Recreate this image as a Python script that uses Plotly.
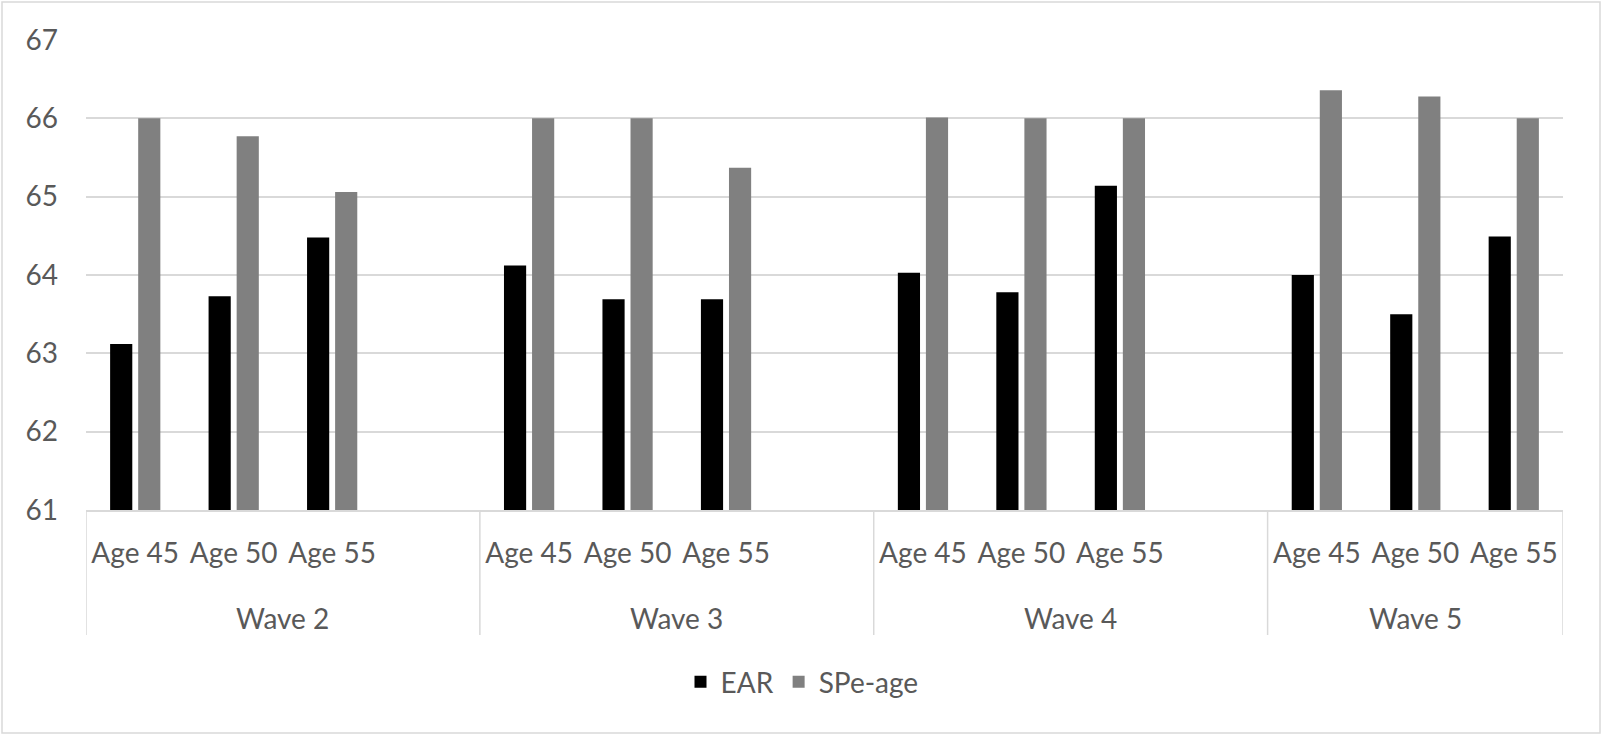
import plotly.graph_objects as go

waves = ["Wave 2", "Wave 3", "Wave 4", "Wave 5"]
ages = ["Age 45", "Age 50", "Age 55"]

ear = {
    "Wave 2": [63.12, 63.73, 64.48],
    "Wave 3": [64.12, 63.69, 63.69],
    "Wave 4": [64.03, 63.78, 65.14],
    "Wave 5": [64.00, 63.50, 64.49],
}
spe_age = {
    "Wave 2": [66.00, 65.77, 65.06],
    "Wave 3": [66.00, 66.00, 65.37],
    "Wave 4": [66.01, 66.00, 66.00],
    "Wave 5": [66.36, 66.28, 66.00],
}

# Category slots: each wave has its three ages; waves 2-4 are followed by an empty slot
xpos, xlab, ear_y, spe_y = [], [], [], []
groups = []  # (wave, first slot, last slot)
k = 0
for i, w in enumerate(waves):
    start = k
    for j, a in enumerate(ages):
        xpos.append(k)
        xlab.append(a)
        ear_y.append(ear[w][j])
        spe_y.append(spe_age[w][j])
        k += 1
    if i < len(waves) - 1:
        k += 1  # empty slot
    groups.append((w, start, k - 1))
n_slots = k

FONT = "Lato"
TXT = "#595959"
GRID = "#D9D9D9"
FS = 28

fig = go.Figure()
fig.add_trace(go.Bar(x=xpos, y=ear_y, name="EAR",
                     marker=dict(color="#000000", line=dict(width=0))))
fig.add_trace(go.Bar(x=xpos, y=spe_y, name="SPe-age",
                     marker=dict(color="#808080", line=dict(width=0))))

W, H = 1603, 735
L, R, T, B = 86, 40, 40, 225
pw, ph = W - L - R, H - T - B

def py(px):  # pixel row -> paper y
    return (H - B - px) / ph

fig.update_layout(
    width=W, height=H,
    margin=dict(l=L, r=R, t=T, b=B, autoexpand=False),
    paper_bgcolor="white", plot_bgcolor="white",
    barmode="group", bargap=0.43, bargroupgap=0.21,
    font=dict(family=FONT, size=FS, color=TXT),
    showlegend=True,
    legend=dict(orientation="h", x=(802 - L) / pw, xanchor="center",
                y=py(682), yanchor="middle",
                font=dict(family=FONT, size=FS, color=TXT),
                itemwidth=30, tracegroupgap=0),
    xaxis=dict(range=[-0.5, n_slots - 0.5], tickmode="array",
               tickvals=xpos, ticktext=xlab,
               showline=True, linecolor=GRID, linewidth=1.5,
               ticks="", showgrid=False, zeroline=False,
               ticklabelstandoff=18,
               tickfont=dict(family=FONT, size=FS, color=TXT)),
    yaxis=dict(range=[61, 67], dtick=1, showgrid=True, gridcolor=GRID, gridwidth=1.5,
               zeroline=False, showline=False, ticks="",
               ticklabelstandoff=27,
               tickfont=dict(family=FONT, size=28, color=TXT)),
)

# wave (second-level) labels and dividers
for w, s, e in groups:
    fig.add_annotation(x=(s + e) / 2, xref="x", y=py(618), yref="paper",
                       text=w, showarrow=False, yanchor="middle",
                       font=dict(family=FONT, size=FS, color=TXT))
bounds = [groups[0][1] - 0.5] + [e + 0.5 for _, _, e in groups]
for b in bounds:
    fig.add_shape(type="line", xref="x", yref="paper", x0=b, x1=b,
                  y0=0, y1=py(635), line=dict(color=GRID, width=1.5))

# outer chart border
fig.add_shape(type="rect", xref="paper", yref="paper",
              x0=(2 - L) / pw, x1=(W - 3 - L) / pw,
              y0=py(H - 2), y1=py(2),
              line=dict(color=GRID, width=1.5), fillcolor="rgba(0,0,0,0)", layer="below")

fig.write_html("out.html", config={"displayModeBar": False},
               post_script="document.body.style.margin='0px';document.body.style.overflow='hidden';")
